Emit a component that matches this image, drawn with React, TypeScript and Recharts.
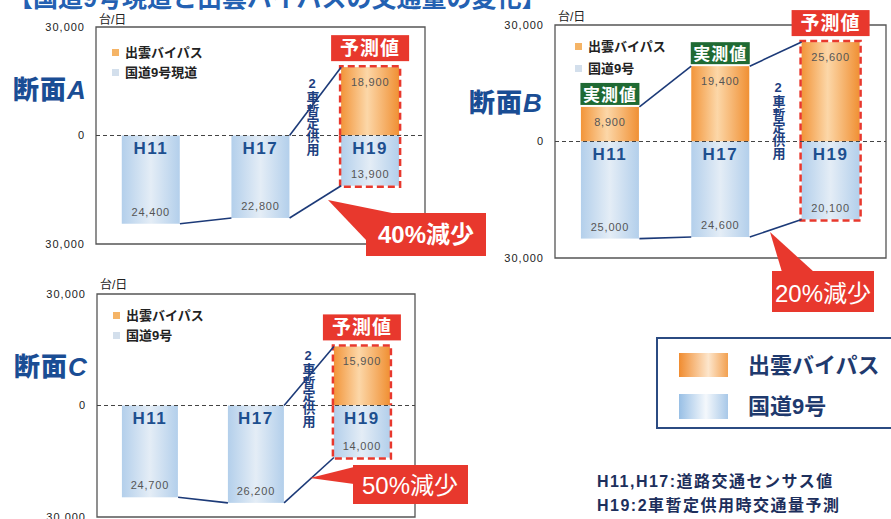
import React from 'react';
import { BarChart, Bar, XAxis, YAxis, ReferenceLine, ReferenceArea, Legend } from 'recharts';

const FONT = "'Liberation Sans', 'Noto Sans CJK JP', sans-serif";

// ---- data ----
const years = ['H11', 'H17', 'H19'];
const bypassA = [0, 0, 18900];
const route9A = [24400, 22800, 13900];
const tagsA = ['', '', '予測値'];
const bypassB = [8900, 19400, 25600];
const route9B = [25000, 24600, 20100];
const tagsB = ['実測値', '実測値', '予測値'];
const bypassC = [0, 0, 15900];
const route9C = [24700, 26200, 14000];
const tagsC = ['', '', '予測値'];
const yTicks = [-30000, 0, 30000];
const bypassName = '出雲バイパス';
const route9NameA = '国道9号現道';
const route9Name = '国道9号';

const GAP = 0.235;
const RED = '#e8382d';
const NAVY = '#1c3a78';

const fmt = (v: number) => Math.abs(v).toLocaleString('en-US');

function makeBypassShape(gid: string) {
  return (p: any) => {
    const { x, y, width, height, payload } = p;
    const top = Math.min(y, y + height);
    const h = Math.abs(height);
    const bottom = top + h;
    const cx = x + width / 2;
    const forecast = payload.tag === '予測値';
    const tagW = forecast ? 78 : 59;
    const tagH = forecast ? 26 : 22;
    const tagGap = forecast ? 6 : 2;
    return (
      <g>
        {h > 0 && <rect x={x} y={top} width={width} height={h} fill={`url(#${gid}-o)`} />}
        {h > 0 && (
          <text x={cx} y={top + 19} textAnchor="middle" fontSize={11} letterSpacing={0.8} fill="#555" fontFamily={FONT}>
            {fmt(payload.bypass)}
          </text>
        )}
        {forecast && h > 0 && (
          <path
            d={`M${x - 1},${bottom} L${x - 1},${top - 1} L${x + width + 1},${top - 1} L${x + width + 1},${bottom}`}
            fill="none" stroke={RED} strokeWidth={2.5} strokeDasharray="7 4"
          />
        )}
        {payload.tag && (
          <g>
            <rect x={cx - tagW / 2} y={top - tagGap - tagH} width={tagW} height={tagH} fill={forecast ? RED : '#1f6a33'} />
            <text x={cx} y={top - tagGap - (forecast ? 6 : 4)} textAnchor="middle" fill="#fff" fontSize={forecast ? 19 : 17} fontWeight={700} letterSpacing={1} fontFamily={FONT}>
              {payload.tag}
            </text>
          </g>
        )}
      </g>
    );
  };
}

function makeRoute9Shape(gid: string) {
  return (p: any) => {
    const { x, y, width, height, payload } = p;
    const top = Math.min(y, y + height);
    const h = Math.abs(height);
    const bottom = top + h;
    const cx = x + width / 2;
    const forecast = payload.tag === '予測値';
    if (h <= 0) return <g />;
    return (
      <g>
        <rect x={x} y={top} width={width} height={h} fill={`url(#${gid}-b)`} />
        <text x={cx} y={top + 18} textAnchor="middle" fontSize={17} fontWeight={700} letterSpacing={1.5} fill="#1d4f8f" fontFamily={FONT}>
          {payload.year}
        </text>
        <text x={cx} y={bottom - 8} textAnchor="middle" fontSize={11} letterSpacing={0.8} fill="#555" fontFamily={FONT}>
          {fmt(payload.route9)}
        </text>
        {forecast && (
          <path
            d={`M${x - 1},${top} L${x - 1},${bottom + 1} L${x + width + 1},${bottom + 1} L${x + width + 1},${top}`}
            fill="none" stroke={RED} strokeWidth={2.5} strokeDasharray="7 4"
          />
        )}
      </g>
    );
  };
}

const legendSwatch: Record<string, string> = { bypass: '#f5b466', route9: '#d3dfec' };

function MiniChart(props: any) {
  const { id, left, top, width, height, margin, yAxisWidth, bypass, route9, tags, r9Name, legend } = props;
  // pos = centre of each category in band units (0..n)
  const data = years.map((year, i) => ({ year, pos: i + 0.5, bypass: bypass[i], route9: -route9[i], tag: tags[i] }));
  const n = years.length;
  const links: any[] = [];
  for (let i = 0; i < n - 1; i++) {
    if (bypass[i] > 0 || bypass[i + 1] > 0) {
      links.push([{ x: i + 1 - GAP, y: bypass[i] }, { x: i + 1 + GAP, y: bypass[i + 1] }]);
    }
    links.push([{ x: i + 1 - GAP, y: -route9[i] }, { x: i + 1 + GAP, y: -route9[i + 1] }]);
  }
  return (
    <div style={{ position: 'absolute', left, top, width, height }}>
      <BarChart width={width} height={height} data={data} margin={margin} stackOffset="sign" barCategoryGap={`${GAP * 100}%`} style={{ overflow: 'visible' }}>
        <defs>
          <linearGradient id={`${id}-o`} x1="0" y1="0" x2="1" y2="0">
            <stop offset="0%" stopColor="#f2953a" />
            <stop offset="45%" stopColor="#fcd7a8" />
            <stop offset="100%" stopColor="#f09034" />
          </linearGradient>
          <linearGradient id={`${id}-b`} x1="0" y1="0" x2="1" y2="0">
            <stop offset="0%" stopColor="#b3cfeb" />
            <stop offset="50%" stopColor="#e4edf6" />
            <stop offset="100%" stopColor="#b3cfeb" />
          </linearGradient>
        </defs>
        <XAxis dataKey="year" hide />
        <XAxis xAxisId="n" dataKey="pos" type="number" domain={[0, n]} hide />
        <YAxis
          domain={[-30000, 30000]}
          ticks={yTicks}
          width={yAxisWidth}
          axisLine={false}
          tickLine={false}
          tickMargin={5}
          tickFormatter={fmt}
          tick={{ fontSize: 11, fill: '#222', fontFamily: FONT, letterSpacing: 1 }}
        />
        <ReferenceArea xAxisId="n" x1={0} x2={n} y1={-30000} y2={30000} fill="none" fillOpacity={0} stroke="#555" strokeWidth={1.3} ifOverflow="visible" />
        <ReferenceLine y={0} stroke="#444" strokeDasharray="4 3" ifOverflow="visible" />
        <Legend
          layout="vertical"
          align="center"
          verticalAlign="middle"
          wrapperStyle={{ left: legend.x, top: legend.y, width: 'auto', height: 'auto' }}
          content={(lp: any) => (
            <div style={{ fontFamily: FONT }}>
              {(lp.payload || []).map((e: any) => (
                <div key={e.dataKey} style={{ display: 'flex', alignItems: 'center', height: legend.row }}>
                  <span style={{ display: 'inline-block', width: 7, height: 7, background: legendSwatch[e.dataKey], marginRight: 6 }} />
                  <span style={{ fontSize: 13, fontWeight: 700, color: '#222', lineHeight: 1 }}>{e.value}</span>
                </div>
              ))}
            </div>
          )}
        />
        <Bar dataKey="bypass" name={bypassName} stackId="s" isAnimationActive={false} shape={makeBypassShape(id)} />
        <Bar dataKey="route9" name={r9Name} stackId="s" isAnimationActive={false} shape={makeRoute9Shape(id)} />
        {links.map((seg, k) => (
          <ReferenceLine key={k} xAxisId="n" segment={seg} stroke={NAVY} strokeWidth={1.6} ifOverflow="visible" />
        ))}
      </BarChart>
    </div>
  );
}

const verticalNote = '2車暫定供用';

function VText({ x, y }: { x: number; y: number }) {
  return (
    <text
      x={x} y={y} fontSize={13} fontWeight={700} fill="#1d3f80" fontFamily={FONT}
      style={{ writingMode: 'vertical-rl', textOrientation: 'upright' } as any}
    >
      {verticalNote}
    </text>
  );
}

function Section({ x, y, letter }: { x: number; y: number; letter: string }) {
  return (
    <text x={x} y={y} fontSize={26} fontWeight={900} fill="#1a4d94" fontFamily={FONT} letterSpacing={1}>
      断面<tspan fontStyle="italic">{letter}</tspan>
    </text>
  );
}

export default function App() {
  return (
    <div style={{ position: 'absolute', left: 0, top: 0, width: 891, height: 519, overflow: 'hidden', background: '#fff', fontFamily: FONT }}>
      <MiniChart
        id="ca" left={0} top={0} width={450} height={260}
        margin={{ top: 27, right: 25, bottom: 16, left: 0 }} yAxisWidth={96}
        bypass={bypassA} route9={route9A} tags={tagsA} r9Name={route9NameA}
        legend={{ x: 112, y: 42, row: 20 }}
      />
      <MiniChart
        id="cb" left={450} top={0} width={441} height={275}
        margin={{ top: 25, right: 5, bottom: 17, left: 0 }} yAxisWidth={105}
        bypass={bypassB} route9={route9B} tags={tagsB} r9Name={route9Name}
        legend={{ x: 125, y: 35, row: 22 }}
      />
      <MiniChart
        id="cc" left={0} top={260} width={450} height={280}
        margin={{ top: 34, right: 35, bottom: 23, left: 0 }} yAxisWidth={97}
        bypass={bypassC} route9={route9C} tags={tagsC} r9Name={route9Name}
        legend={{ x: 113, y: 45, row: 20 }}
      />
      <svg width={891} height={519} style={{ position: 'absolute', left: 0, top: 0, pointerEvents: 'none' }}>
        <defs>
          <linearGradient id="lg-o" x1="0" y1="0" x2="1" y2="0">
            <stop offset="0%" stopColor="#f08c30" />
            <stop offset="60%" stopColor="#fde6cc" />
            <stop offset="100%" stopColor="#f2a050" />
          </linearGradient>
          <linearGradient id="lg-b" x1="0" y1="0" x2="1" y2="0">
            <stop offset="0%" stopColor="#98bfe5" />
            <stop offset="55%" stopColor="#f4f8fc" />
            <stop offset="100%" stopColor="#a8c8e8" />
          </linearGradient>
        </defs>
        <text x={8} y={7} fontSize={25} fontWeight={700} fill="#2461b2" fontFamily={FONT}>
          【国道9号現道と出雲バイパスの交通量の変化】
        </text>
        <text x={99} y={24} fontSize={12} fill="#222" fontFamily={FONT}>台/日</text>
        <text x={558} y={21} fontSize={12} fill="#222" fontFamily={FONT}>台/日</text>
        <text x={100} y={289} fontSize={12} fill="#222" fontFamily={FONT}>台/日</text>

        <Section x={13} y={99} letter="A" />
        <Section x={469} y={112} letter="B" />
        <Section x={14} y={376} letter="C" />

        <VText x={312} y={76} />
        <VText x={778} y={80} />
        <VText x={308} y={348} />

        <g>
          <polygon points="328,200 392,213 366,240" fill={RED} />
          <rect x={366} y={213} width={120} height={43} fill={RED} />
          <text x={426} y={243} textAnchor="middle" fontSize={24} fontWeight={700} fill="#fff" fontFamily={FONT}>40%減少</text>
        </g>
        <g>
          <polygon points="770,232 782,272 814,272" fill={RED} />
          <rect x={772} y={271} width={102} height={41} fill={RED} />
          <text x={823} y={302} textAnchor="middle" fontSize={24} fill="#fff" fontFamily={FONT}>20%減少</text>
        </g>
        <g>
          <polygon points="310,478 354,467 354,484" fill={RED} />
          <rect x={353} y={465} width={115} height={39} fill={RED} />
          <text x={410} y={494} textAnchor="middle" fontSize={24} fill="#fff" fontFamily={FONT}>50%減少</text>
        </g>

        <rect x={657} y={338} width={250} height={90} fill="#fff" stroke="#2b4b82" strokeWidth={2} />
        <rect x={679} y={353} width={49} height={24} fill="url(#lg-o)" />
        <rect x={679} y={394} width={49} height={25} fill="url(#lg-b)" />
        <text x={748} y={373} fontSize={22} fontWeight={700} fill="#1f3a6e" fontFamily={FONT}>{bypassName}</text>
        <text x={748} y={414} fontSize={22} fontWeight={700} fill="#1f3a6e" fontFamily={FONT}>{route9Name}</text>

        <text x={597} y={487} fontSize={16} fontWeight={700} fill="#1d2f5c" letterSpacing={1.5} fontFamily={FONT}>H11,H17:道路交通センサス値</text>
        <text x={597} y={511} fontSize={16} fontWeight={700} fill="#1d2f5c" letterSpacing={1.5} fontFamily={FONT}>H19:2車暫定供用時交通量予測</text>
      </svg>
    </div>
  );
}
